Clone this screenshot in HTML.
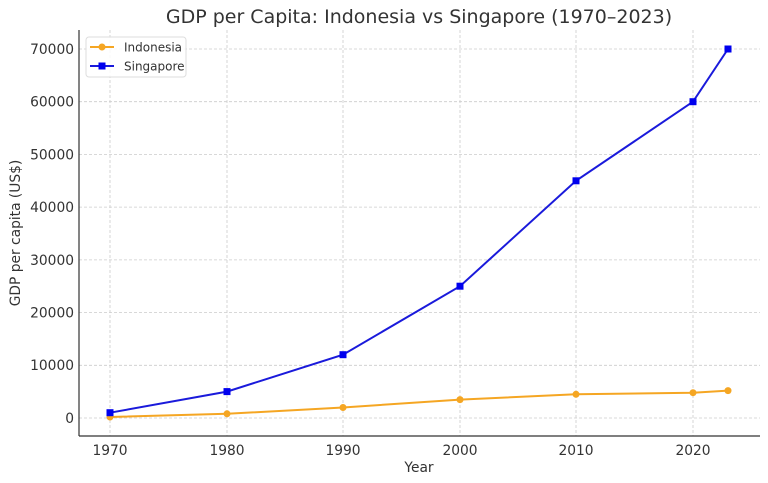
<!DOCTYPE html>
<html><head><meta charset="utf-8"><style>body{margin:0;background:#fff}svg{display:block}text{font-family:"DejaVu Sans","Liberation Sans",sans-serif;fill:#333}</style></head>
<body>
<svg width="768" height="483" xmlns="http://www.w3.org/2000/svg">
<text x="419" y="23" font-size="19" text-anchor="middle">GDP per Capita: Indonesia vs Singapore (1970–2023)</text>
<g stroke="#ccc" stroke-width="0.8" stroke-dasharray="3,2">
<line x1="110" y1="30" x2="110" y2="436"/><line x1="227" y1="30" x2="227" y2="436"/><line x1="343" y1="30" x2="343" y2="436"/><line x1="460" y1="30" x2="460" y2="436"/><line x1="576" y1="30" x2="576" y2="436"/><line x1="693" y1="30" x2="693" y2="436"/>
<line x1="79" y1="418" x2="760" y2="418"/><line x1="79" y1="365.3" x2="760" y2="365.3"/><line x1="79" y1="312.6" x2="760" y2="312.6"/><line x1="79" y1="259.9" x2="760" y2="259.9"/><line x1="79" y1="207.1" x2="760" y2="207.1"/><line x1="79" y1="154.4" x2="760" y2="154.4"/><line x1="79" y1="101.7" x2="760" y2="101.7"/><line x1="79" y1="49" x2="760" y2="49"/>
</g>
<g stroke="#333" stroke-width="1.2"><line x1="79" y1="30" x2="79" y2="436"/><line x1="79" y1="436" x2="760" y2="436"/></g>
<g font-size="13.8" text-anchor="middle">
<text x="110" y="455">1970</text><text x="227" y="455">1980</text><text x="343" y="455">1990</text><text x="460" y="455">2000</text><text x="576" y="455">2010</text><text x="693" y="455">2020</text>
<text x="419" y="472">Year</text></g>
<g font-size="13.8" text-anchor="end">
<text x="74" y="423">0</text><text x="74" y="370">10000</text><text x="74" y="317.6">20000</text><text x="74" y="265">30000</text><text x="74" y="212">40000</text><text x="74" y="159.4">50000</text><text x="74" y="106.7">60000</text><text x="74" y="54">70000</text></g>
<text transform="translate(20,233) rotate(-90)" font-size="13.8" text-anchor="middle">GDP per capita (US$)</text>
<polyline fill="none" stroke="#f5a623" stroke-width="2" points="110,417 227,413.8 343,407.5 460,399.6 576,394.3 693,392.7 728,390.6"/>
<g fill="#f5a623"><circle cx="110" cy="417" r="3.5"/><circle cx="227" cy="413.8" r="3.5"/><circle cx="343" cy="407.5" r="3.5"/><circle cx="460" cy="399.6" r="3.5"/><circle cx="576" cy="394.3" r="3.5"/><circle cx="693" cy="392.7" r="3.5"/><circle cx="728" cy="390.6" r="3.5"/></g>
<polyline fill="none" stroke="#1a1adb" stroke-width="2" points="110,412.7 227,391.6 343,354.7 460,286.2 576,180.8 693,101.7 728,49"/>
<g fill="#0000ee"><rect x="106.5" y="409.2" width="7" height="7"/><rect x="223.5" y="388.1" width="7" height="7"/><rect x="339.5" y="351.2" width="7" height="7"/><rect x="456.5" y="282.7" width="7" height="7"/><rect x="572.5" y="177.3" width="7" height="7"/><rect x="689.5" y="98.2" width="7" height="7"/><rect x="724.5" y="45.5" width="7" height="7"/></g>
<rect x="86" y="37" width="100" height="40" rx="3" fill="#fff" fill-opacity="0.85" stroke="#ddd"/>
<line x1="90" y1="47" x2="114" y2="47" stroke="#f5a623" stroke-width="2"/><circle cx="102" cy="47" r="3.5" fill="#f5a623"/>
<line x1="90" y1="66" x2="114" y2="66" stroke="#1a1adb" stroke-width="2"/><rect x="98.5" y="62.5" width="7" height="7" fill="#0000ee"/>
<text x="124" y="51.5" font-size="12">Indonesia</text><text x="124" y="70.5" font-size="12">Singapore</text>
</svg>
</body></html>
